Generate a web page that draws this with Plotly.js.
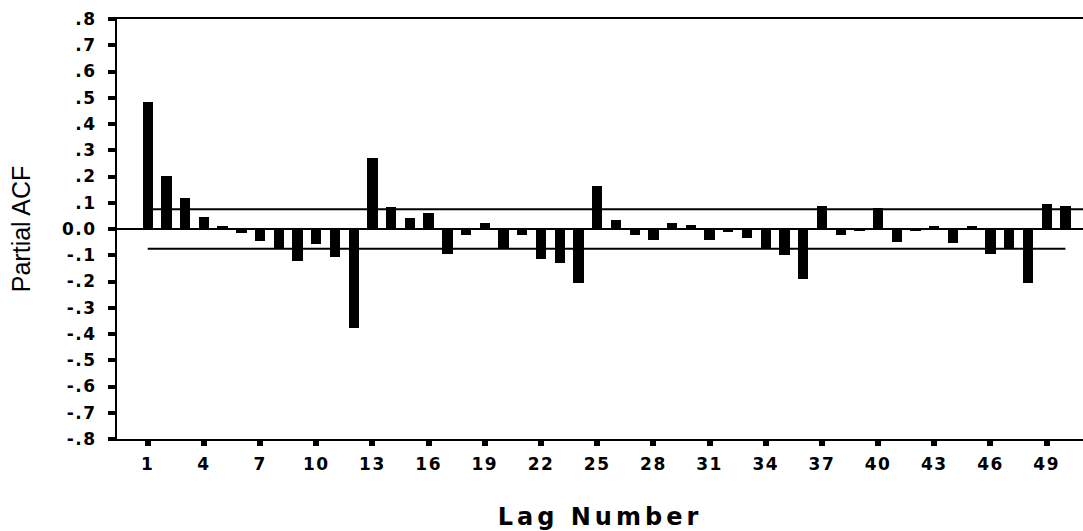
<!DOCTYPE html>
<html>
<head>
<meta charset="utf-8">
<script src="https://cdn.plot.ly/plotly-3.0.1.min.js"></script>
<style>
  html, body { margin: 0; padding: 0; background: #fff; }
  #chart { width: 1083px; height: 531px; }
  .xtick text, .ytick text { letter-spacing: 1.5px; }
  .g-xtitle text { letter-spacing: 4px; }
</style>
</head>
<body>
<div id="chart"></div>
<script>
// Lag numbers
const lags = [];
for (let i = 1; i <= 50; i++) lags.push(i);

// Partial ACF values
const pacf = [
   0.483,  0.203,  0.117,  0.047,  0.010, -0.017, -0.045, -0.073, -0.122, -0.058,
  -0.108, -0.378,  0.269,  0.085,  0.041,  0.060, -0.095, -0.024,  0.022, -0.074,
  -0.024, -0.114, -0.128, -0.207,  0.165,  0.034, -0.023, -0.042,  0.022,  0.017,
  -0.040, -0.010, -0.036, -0.074, -0.099, -0.192,  0.088, -0.023, -0.006,  0.079,
  -0.048, -0.006,  0.011, -0.055,  0.011, -0.095, -0.074, -0.204,  0.095,  0.089
];

// Confidence limits
const confUpper = 0.075;
const confLower = -0.075;

// Tick values / labels
const xTickVals = [1, 4, 7, 10, 13, 16, 19, 22, 25, 28, 31, 34, 37, 40, 43, 46, 49];
const yTickVals = [0.8, 0.7, 0.6, 0.5, 0.4, 0.3, 0.2, 0.1, 0, -0.1, -0.2, -0.3, -0.4, -0.5, -0.6, -0.7, -0.8];
const yTickText = ['.8', '.7', '.6', '.5', '.4', '.3', '.2', '.1', '0.0', '-.1', '-.2', '-.3', '-.4', '-.5', '-.6', '-.7', '-.8'];

const firstLag = lags[0];
const lastLag = lags[lags.length - 1];

const traces = [
  {
    type: 'bar',
    x: lags,
    y: pacf,
    width: 0.55,
    marker: { color: '#000', line: { width: 0 } },
    hoverinfo: 'x+y'
  },
  {
    type: 'scatter', mode: 'lines',
    x: [firstLag + 0.2, lastLag + 0.94],
    y: [confUpper, confUpper],
    line: { color: '#000', width: 2 },
    hoverinfo: 'skip'
  },
  {
    type: 'scatter', mode: 'lines',
    x: [firstLag, lastLag],
    y: [confLower, confLower],
    line: { color: '#000', width: 2 },
    hoverinfo: 'skip'
  }
];

const tickFont = { family: 'DejaVu Sans, Liberation Sans, Arial, sans-serif', size: 17, color: '#000', weight: 'bold' };

const layout = {
  width: 1083,
  height: 531,
  margin: { l: 117, r: 0, t: 19, b: 92 },
  paper_bgcolor: '#fff',
  plot_bgcolor: '#fff',
  showlegend: false,
  bargap: 0,
  xaxis: {
    range: [-0.64, 50.94],
    tickmode: 'array',
    tickvals: xTickVals,
    ticktext: xTickVals.map(String),
    ticks: 'outside',
    ticklen: 5,
    tickwidth: 6,
    tickcolor: '#000',
    ticklabelstandoff: 4,
    showline: true,
    linecolor: '#000',
    linewidth: 2,
    mirror: true,
    showgrid: false,
    zeroline: false,
    tickfont: tickFont,
    title: {
      text: 'Lag Number',
      font: { family: 'DejaVu Sans, Liberation Sans, Arial, sans-serif', size: 24, color: '#000', weight: 600 },
      standoff: 35
    }
  },
  yaxis: {
    range: [-0.8, 0.8],
    tickmode: 'array',
    tickvals: yTickVals,
    ticktext: yTickText,
    ticks: 'outside',
    ticklen: 7,
    tickwidth: 4,
    tickcolor: '#000',
    ticklabelstandoff: 8,
    showline: true,
    linecolor: '#000',
    linewidth: 2,
    showgrid: false,
    zeroline: true,
    zerolinecolor: '#000',
    zerolinewidth: 2,
    tickfont: tickFont,
    title: {
      text: 'Partial ACF',
      font: { family: 'Liberation Sans Narrow, Liberation Sans, Arial, sans-serif', size: 25, color: '#000' },
      standoff: 24
    }
  }
};

Plotly.newPlot('chart', traces, layout, { displayModeBar: false, staticPlot: true });
</script>
</body>
</html>
